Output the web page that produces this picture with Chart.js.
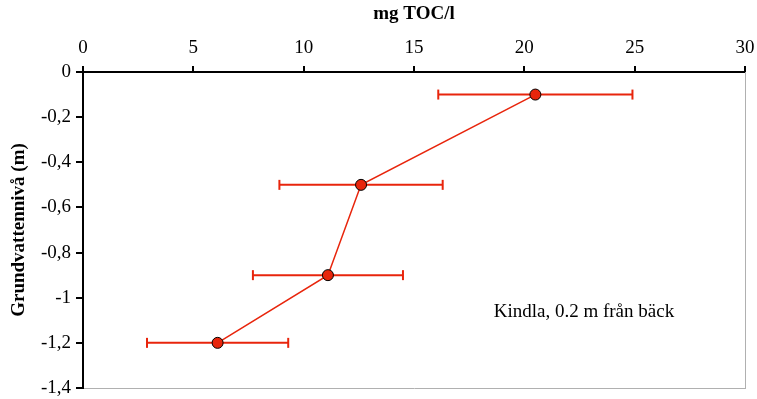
<!DOCTYPE html>
<html>
<head>
<meta charset="utf-8">
<script src="https://cdn.jsdelivr.net/npm/chart.js@4"></script>
<style>
  html, body { margin: 0; padding: 0; background: #fff; }
  #wrap { width: 757px; height: 399px; }
</style>
</head>
<body>
<div id="wrap"><canvas id="graf"></canvas></div>
<script>
// värden
const djup = [-0.1, -0.5, -0.9, -1.2];
const toc = [20.5, 12.6, 11.1, 6.1];
const tocMin = [16.1, 8.9, 7.7, 2.9];
const tocMax = [24.9, 16.3, 14.5, 9.3];
const xTitel = 'mg TOC/l';
const yTitel = 'Grundvattennivå (m)';
const notering = 'Kindla, 0.2 m från bäck';

const rod = '#e8250c';
const serif = "'Liberation Serif', 'Times New Roman', serif";

// felstaplar som egna linjer med vertikala ändstreck
const felstaplar = djup.map((d, i) => ({
    data: [{ x: tocMin[i], y: d }, { x: tocMax[i], y: d }],
    showLine: true,
    borderColor: rod,
    borderWidth: 2,
    pointStyle: 'line',
    rotation: 90,
    pointRadius: 5,
    pointBorderColor: rod,
    pointBorderWidth: 2
}));

const textPlugin = {
    id: 'notering',
    afterDatasetsDraw(chart) {
        const ctx = chart.ctx;
        const x = chart.scales.x.getPixelForValue(22.7);
        const y = chart.scales.y.getPixelForValue(-1.063);
        ctx.save();
        ctx.font = '19px ' + serif;
        ctx.fillStyle = '#000';
        ctx.textAlign = 'center';
        ctx.textBaseline = 'middle';
        ctx.fillText(notering, x, y);
        ctx.restore();
    }
};

new Chart(document.getElementById('graf'), {
    type: 'scatter',
    data: {
        datasets: [{
            data: djup.map((d, i) => ({ x: toc[i], y: d })),
            showLine: true,
            borderColor: rod,
            borderWidth: 1.5,
            pointRadius: 5.5,
            pointBackgroundColor: rod,
            pointBorderColor: '#000',
            pointBorderWidth: 1
        }, ...felstaplar]
    },
    options: {
        responsive: true,
        maintainAspectRatio: false,
        animation: false,
        layout: { padding: 0 },
        plugins: { legend: { display: false }, tooltip: { enabled: false } },
        scales: {
            x: {
                type: 'linear',
                position: 'top',
                min: 0, max: 30,
                ticks: { stepSize: 5, color: '#000', font: { family: serif, size: 19 }, padding: 7, maxRotation: 0 },
                grid: { drawOnChartArea: false, tickLength: 6, color: '#000', lineWidth: 2 },
                border: { color: '#000', width: 2 },
                title: { display: true, text: xTitel, color: '#000', font: { family: serif, size: 19, weight: 'bold' }, padding: { top: 3, bottom: 4 } },
                afterFit(s) { s.height = 72; s.paddingRight = 12; s.paddingLeft = 0; }
            },
            x2: {
                type: 'linear',
                position: 'bottom',
                min: 0, max: 30,
                ticks: { display: false },
                grid: { display: false, drawTicks: false },
                border: { color: '#b0b0b0', width: 1 },
                afterFit(s) { s.height = 0; s.paddingRight = 12; s.paddingLeft = 0; }
            },
            y: {
                type: 'linear',
                min: -1.4, max: 0,
                ticks: {
                    stepSize: 0.2, color: '#000', font: { family: serif, size: 19 }, padding: 5,
                    callback: v => String(Math.round(v * 10) / 10).replace('.', ',')
                },
                grid: { drawOnChartArea: false, tickLength: 7, color: '#000', lineWidth: 2 },
                border: { color: '#000', width: 2 },
                title: { display: true, text: yTitel, color: '#000', font: { family: serif, size: 19, weight: 'bold' }, padding: { top: 8, bottom: 0 } },
                afterFit(s) { s.width = 83; s.paddingBottom = 11; s.paddingTop = 0; }
            },
            y2: {
                type: 'linear',
                position: 'right',
                min: -1.4, max: 0,
                ticks: { display: false },
                grid: { display: false, drawTicks: false },
                border: { color: '#b0b0b0', width: 1 },
                afterFit(s) { s.width = 0; s.paddingBottom = 11; s.paddingTop = 0; }
            }
        }
    },
    plugins: [textPlugin]
});
</script>
</body>
</html>
